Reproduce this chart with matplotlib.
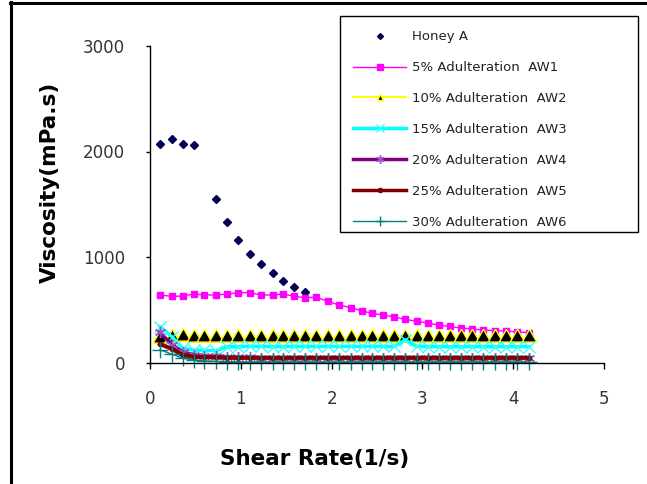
import matplotlib
matplotlib.use('Agg')
import matplotlib.pyplot as plt
from matplotlib.lines import Line2D
from matplotlib.patches import Rectangle

# shear rates (1/s)
shear = [0.11, 0.24, 0.36, 0.48, 0.60, 0.73, 0.85, 0.97, 1.10, 1.22, 1.35, 1.47,
         1.59, 1.71, 1.83, 1.96, 2.08, 2.21, 2.33, 2.45, 2.57, 2.69, 2.81, 2.94,
         3.06, 3.18, 3.30, 3.42, 3.55, 3.67, 3.80, 3.92, 4.04, 4.17]

honey_x = [0.11, 0.24, 0.36, 0.48, 0.73, 0.85, 0.97, 1.10, 1.22, 1.35, 1.47, 1.59, 1.71]
honey_a = [2068, 2116, 2068, 2064, 1550, 1329, 1164, 1031, 931, 848, 775, 718, 665]

aw1 = [640, 627, 630, 649, 640, 640, 649, 662, 662, 640, 640, 649, 627, 615, 618, 580,
       545, 520, 491, 465, 450, 431, 409, 390, 374, 355, 342, 327, 318, 308, 302, 299,
       289, 283]
aw2 = [190, 205, 210, 205, 205, 200, 200, 200, 200, 200, 200, 200, 200, 200, 200, 200,
       200, 200, 200, 200, 200, 200, 200, 200, 200, 200, 200, 200, 200, 200, 200, 200,
       200, 200]
aw3 = [340, 245, 135, 118, 115, 112, 150, 150, 152, 152, 150, 150, 152, 152, 152, 152,
       152, 152, 152, 152, 152, 152, 215, 152, 150, 150, 150, 150, 150, 150, 150, 150,
       150, 150]
aw4 = [285, 170, 100, 75, 65, 60, 55, 50, 48, 45, 45, 45, 45, 45, 45, 45,
       45, 45, 45, 45, 45, 45, 45, 45, 45, 45, 45, 45, 45, 45, 45, 45,
       45, 45]
aw5 = [175, 130, 70, 55, 50, 48, 46, 45, 45, 45, 45, 45, 45, 45, 45, 45,
       45, 45, 45, 45, 45, 45, 45, 45, 45, 45, 45, 45, 45, 45, 45, 45,
       45, 45]
aw6 = [120, 80, 40, 25, 15, 10, 8, 6, 5, 5, 5, 5, 5, 5, 5, 5,
       5, 5, 5, 5, 5, 5, 5, 5, 5, 5, 5, 5, 5, 5, 5, 5,
       5, 5]

labels = ["Honey A", "5% Adulteration  AW1", "10% Adulteration  AW2",
          "15% Adulteration  AW3", "20% Adulteration  AW4",
          "25% Adulteration  AW5", "30% Adulteration  AW6"]

W, H = 647, 484
fig = plt.figure(figsize=(W / 100, H / 100), dpi=100)
ax = fig.add_axes([150 / W, 1 - 362.5 / H, 454 / W, 316.5 / H])

# triangle sitting on the data point (base on the line, like Excel draws it)
tri = [(0, 1), (-0.6, -0.05), (0.6, -0.05), (0, 1)]

ax.plot(honey_x, honey_a, ls='none', marker='D', ms=3.6, color='#000055', clip_on=False)
ax.plot(shear, aw1, color='#ff00ff', lw=1.0, marker='s', ms=5, clip_on=False)
ax.plot(shear, aw2, color='#ffff00', lw=2.0, marker=tri, ms=17.5, mfc='black',
        mec='#ffff00', mew=1.0, clip_on=False)
ax.plot(shear, aw3, color='#00ffff', lw=2.5, marker='x', ms=8, mec='#33ffff',
        mew=1.0, clip_on=False)
ax.plot(shear, aw4, color='#800080', lw=2.5, marker=(6, 2, 0), ms=8, mec='#a050c0',
        mew=1.0, clip_on=False)
ax.plot(shear, aw5, color='#800000', lw=3.0, marker='o', ms=3, clip_on=False)
ax.plot(shear, aw6, color='#008080', lw=1.0, marker='+', ms=12, mew=1.0, clip_on=False)

ax.set_xlim(0, 5)
ax.set_ylim(0, 3000)
ax.set_xticks([0, 1, 2, 3, 4, 5])
ax.set_yticks([0, 1000, 2000, 3000])
ax.spines['top'].set_visible(False)
ax.spines['right'].set_visible(False)
for s in ['left', 'bottom']:
    ax.spines[s].set_linewidth(1.0)
ax.tick_params(axis='x', direction='out', length=4, width=1, pad=16,
               labelsize=12, labelcolor='#333333')
ax.tick_params(axis='y', direction='out', length=3, width=1, pad=15,
               labelsize=12, labelcolor='#333333')

fig.text(315 / W, 1 - 459 / H, "Shear Rate(1/s)", fontsize=15.5, fontweight='bold',
         ha='center', va='center')
fig.text(50 / W, 1 - 182 / H, "Viscosity(mPa.s)", fontsize=15.5, fontweight='bold',
         ha='center', va='center', rotation=90)

# legend with smaller markers than the plot
handles = [
    Line2D([], [], ls='none', marker='D', ms=3, color='#000055'),
    Line2D([], [], color='#ff00ff', lw=1.0, marker='s', ms=4.5),
    Line2D([], [], color='#ffff00', lw=1.5, marker='^', ms=4.5, mfc='black', mec='#ffff00'),
    Line2D([], [], color='#00ffff', lw=2.5, marker='x', ms=6, mec='#33ffff'),
    Line2D([], [], color='#800080', lw=2.5, marker=(6, 2, 0), ms=6, mec='#a050c0'),
    Line2D([], [], color='#800000', lw=2.5, marker='o', ms=3),
    Line2D([], [], color='#008080', lw=1.0, marker='+', ms=7),
]
leg = fig.legend(handles, labels, loc='upper left',
                 bbox_to_anchor=(340 / W, 1 - 17 / H), borderaxespad=0,
                 fontsize=9.5, labelspacing=1.36, handlelength=4.0,
                 handletextpad=0.45, borderpad=1.0, frameon=False, numpoints=1)
for t in leg.get_texts():
    t.set_color('#222222')
fig.add_artist(Rectangle((340 / W, 1 - 231.7 / H), 298 / W, 216 / H, fill=False,
                         lw=1.0, edgecolor='black', transform=fig.transFigure))

# outer frame of the picture (top and left edges)
fig.add_artist(Line2D([10 / W, 1], [1 - 2.5 / H, 1 - 2.5 / H], lw=2.2, color='black',
                      transform=fig.transFigure))
fig.add_artist(Line2D([11 / W, 11 / W], [0, 1 - 1.5 / H], lw=2.2, color='black',
                      transform=fig.transFigure))

fig.savefig("out.png", dpi=100)
